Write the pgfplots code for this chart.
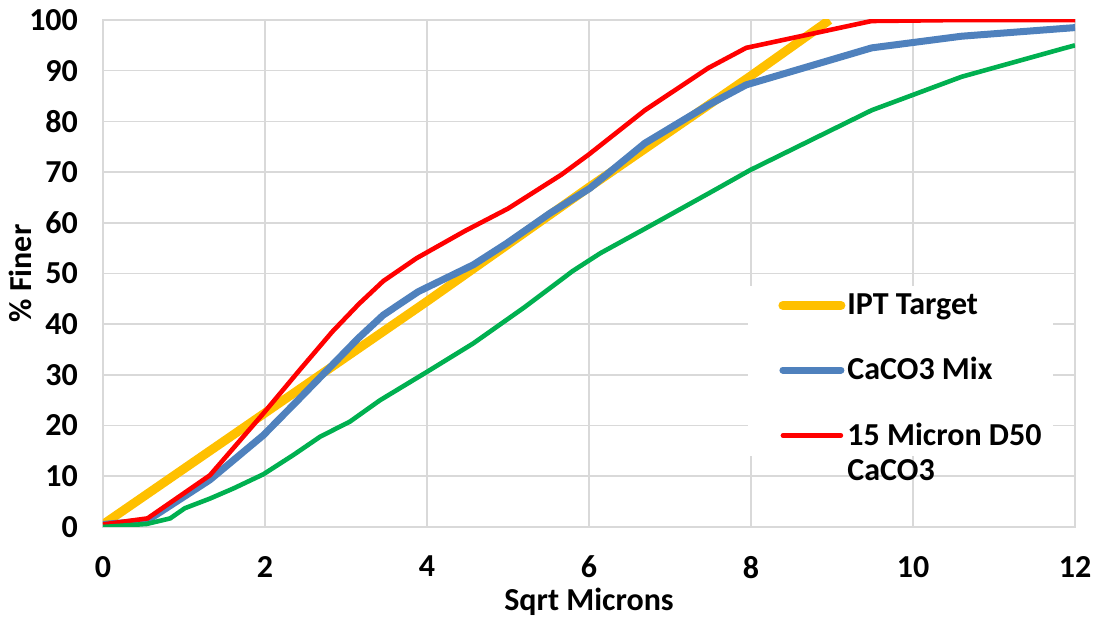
\documentclass[border=0pt]{standalone}
\usepackage{pgfplots}
\pgfplotsset{compat=1.18}
\usepackage{fontspec}
\setmainfont{Carlito}
\definecolor{iptyellow}{HTML}{FFC000}
\definecolor{mixblue}{HTML}{4F81BD}
\definecolor{dred}{HTML}{FF0000}
\definecolor{dgreen}{HTML}{00B050}
\definecolor{gridgray}{HTML}{D9D9D9}
\begin{document}
\begin{tikzpicture}
\begin{axis}[
    at={(0,0)}, anchor=south west,
    scale only axis,
    width=486pt, height=253.5pt,
    xmin=0, xmax=12, ymin=0, ymax=100,
    xtick={0,2,...,12}, ytick={0,10,...,100},
    major tick length=0pt,
    grid=major,
    major grid style={gridgray, line width=0.8pt},
    axis line style={gridgray, line width=0.8pt},
    /pgf/number format/assume math mode=true,
    ticklabel style={font=\fontsize{16}{19}\selectfont\bfseries},
    xticklabel style={yshift=-11pt},
    yticklabel shift=9pt,
    xlabel={Sqrt Microns}, ylabel={\% Finer},
    label style={font=\fontsize{16}{19}\selectfont\bfseries},
    xlabel style={yshift=2pt},
    ylabel style={yshift=-8pt},
    legend style={at={(rel axis cs:0.6636,0.477)}, anchor=north west,
        fill=white, draw=none, row sep=18pt, inner xsep=2pt, inner ysep=3pt,
        font=\fontsize{16}{17.5}\selectfont\bfseries,
        nodes={inner sep=1pt}},
    legend cell align=left,
    legend image code/.code={\path (0pt,0pt); \draw[#1, line cap=round] (13pt,0pt) -- (42pt,0pt);},
    clip=true,
]
\addplot[iptyellow, line width=4.5pt] coordinates {
    (0,0.5) (2,22.5) (4,44.5) (6,67) (8,89) (8.97,100)
};
\addlegendentry{\parbox[t]{100pt}{IPT Target}}
\addplot[mixblue, line width=3.5pt] coordinates {
    (0,0.5) (0.54,1.2) (1.32,9.3) (1.98,18.1) (2.43,25.4) (3.15,37.2)
    (3.46,41.8) (3.89,46.4) (4.57,51.7) (4.98,55.9) (5.52,61.9) (6.01,66.8)
    (6.69,75.7) (7.47,83.2) (7.94,87.2) (9.49,94.5) (10.6,96.8) (12,98.5)
};
\addlegendentry{\parbox[t]{100pt}{CaCO3 Mix}}
\addplot[dred, line width=2.3pt] coordinates {
    (0,0.5) (0.55,1.7) (1.32,10.2) (1.98,22.4) (2.43,31) (2.83,38.5)
    (3.16,44) (3.46,48.5) (3.87,53) (4.47,58.4) (5,62.8) (5.66,69.5)
    (6,73.5) (6.69,82.2) (7.47,90.5) (7.94,94.5) (9.49,99.8) (10.6,100) (12,100)
};
\addlegendentry{\parbox[t]{100pt}{15 Micron D50\\CaCO3}}
\addplot[dgreen, line width=2.3pt, forget plot] coordinates {
    (0,0) (0.54,0.6) (0.83,1.7) (1.01,3.7) (1.32,5.6) (1.61,7.6) (1.98,10.4)
    (2.35,14.2) (2.68,17.8) (3.05,20.8) (3.42,25) (4,30.6) (4.57,36.2)
    (5.2,43.3) (5.8,50.5) (6.14,54) (6.71,59) (7.5,66) (7.99,70.4)
    (9.49,82.2) (10.6,88.8) (11.86,94.4) (12,95)
};
\end{axis}
\pgfresetboundingbox
\path (-51.5pt,-46pt) rectangle (497.5pt,263.5pt);
\end{tikzpicture}
\end{document}
